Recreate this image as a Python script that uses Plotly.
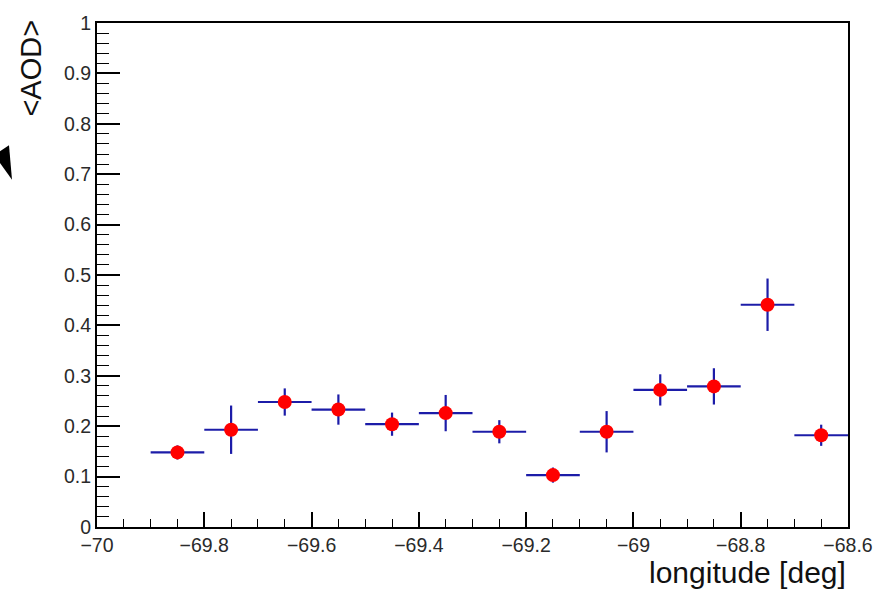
import plotly.graph_objects as go

# Mean aerosol optical depth in longitude bins of width 0.1 deg
lon_center = [-69.85, -69.75, -69.65, -69.55, -69.45, -69.35, -69.25,
              -69.15, -69.05, -68.95, -68.85, -68.75, -68.65]
lon_half_width = [0.05] * len(lon_center)
aod_mean = [0.148, 0.193, 0.248, 0.233, 0.204, 0.226, 0.189,
            0.103, 0.189, 0.272, 0.279, 0.441, 0.182]
aod_err = [0.014, 0.048, 0.027, 0.030, 0.023, 0.036, 0.023,
           0.015, 0.041, 0.031, 0.036, 0.052, 0.021]

W, H = 890, 590
L, R, T, B = 97, 42, 16, 63
PW, PH = W - L - R, H - T - B

FONT = "Liberation Sans, Arial, Helvetica, sans-serif"
BLUE = "rgb(28,28,168)"


def px_to_paper(px, py):
    return (px - L) / PW, (H - B - py) / PH


fig = go.Figure()
fig.add_trace(go.Scatter(
    x=lon_center, y=aod_mean, mode="markers",
    marker=dict(color="#ff0000", size=14, line=dict(width=0)),
    error_x=dict(type="data", array=lon_half_width, color=BLUE, thickness=2.2, width=0),
    error_y=dict(type="data", array=aod_err, color=BLUE, thickness=2.2, width=0),
    showlegend=False, cliponaxis=False,
))

axis_common = dict(
    showgrid=False, zeroline=False, showline=True, linecolor="black",
    linewidth=2, mirror=True, ticks="inside", tickcolor="black", tickwidth=1.6,
    tickfont=dict(family=FONT, size=19.5, color="#2a2a2a"),
)
fig.update_xaxes(range=[-70, -68.6], tick0=-70, dtick=0.2, ticklen=15,
                 minor=dict(dtick=0.05, ticklen=8, ticks="inside",
                            tickcolor="black", tickwidth=1.4),
                 **axis_common)
fig.update_yaxes(range=[0, 1], tick0=0, dtick=0.1, ticklen=23,
                 minor=dict(dtick=0.02, ticklen=12, ticks="inside",
                            tickcolor="black", tickwidth=1.4),
                 **axis_common)

# Axis titles, aligned to the axis ends
tx, ty = px_to_paper(31, 11)
fig.add_annotation(text="&lt;AOD&gt;", xref="paper", yref="paper", x=tx, y=ty,
                   xanchor="center", yanchor="top", textangle=-90, showarrow=False,
                   font=dict(family=FONT, size=29, color="#111"))
ax, ay = px_to_paper(848, 573.5)
fig.add_annotation(text="longitude [deg]", xref="paper", yref="paper", x=ax, y=ay,
                   xanchor="right", yanchor="middle", showarrow=False,
                   font=dict(family=FONT, size=30, color="#111"))

# Small dark wedge at the left edge of the canvas
wedge = [(0, 146), (9, 140), (12, 175), (0, 158)]
pts = [px_to_paper(x, y) for x, y in wedge]
path = "M " + " L ".join(f"{x:.5f},{y:.5f}" for x, y in pts) + " Z"
fig.add_shape(type="path", path=path, xref="paper", yref="paper",
              fillcolor="black", line=dict(width=0))

fig.update_layout(
    width=W, height=H, margin=dict(l=L, r=R, t=T, b=B),
    plot_bgcolor="white", paper_bgcolor="white",
)

fig.write_html("out.html")
